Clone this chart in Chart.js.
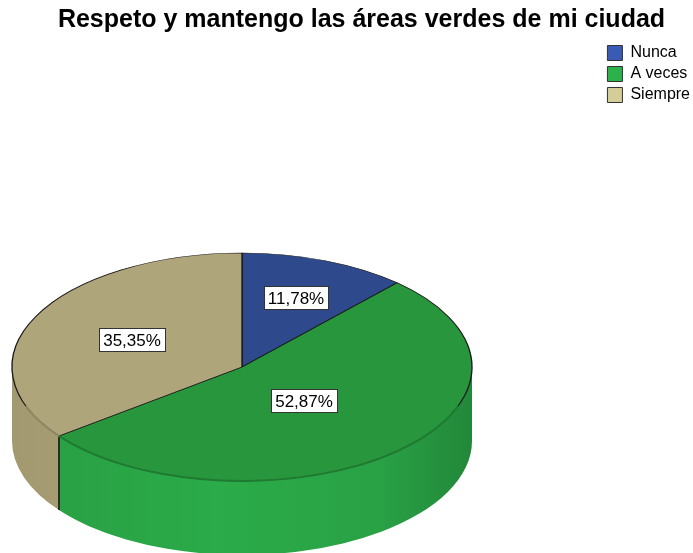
<!DOCTYPE html>
<html>
<head>
<meta charset="utf-8">
<script src="https://cdn.jsdelivr.net/npm/chart.js@4.4.1/dist/chart.umd.min.js"></script>
<style>
  html, body { margin: 0; padding: 0; background: #fff; }
</style>
</head>
<body>
<canvas id="chart" width="693" height="553"></canvas>
<script>
// data
const categories = ["Nunca", "A veces", "Siempre"];
const percentages = [11.78, 52.87, 35.35];
const valueLabels = ["11,78%", "52,87%", "35,35%"];

// colours
const topColors = ["#2f4a8c", "#27963d", "#afa57b"];
const sideColors = ["#2d4790", "#2aa647", "#aca176"];
const legendColors = ["#3a5bb4", "#2cb24b", "#d5cd98"];

// 3D look: ellipse centre / radii / depth, label distance from centre
const CX = 242, CY = 367, RX = 230, RY = 114, DEPTH = 74;
const labelRadius = [0.65, 0.40, 0.535];
const FONT = "'Liberation Sans', Arial, sans-serif";

function shade(hex, f) {
    const n = parseInt(hex.slice(1), 16);
    const c = [(n >> 16) & 255, (n >> 8) & 255, n & 255].map((v) => Math.max(0, Math.min(255, Math.round(v * f))));
    return `rgb(${c[0]}, ${c[1]}, ${c[2]})`;
}

const pie3d = {
    id: "pie3d",
    beforeDatasetsDraw(chart) {
        const ctx = chart.ctx;
        const arcs = chart.getDatasetMeta(0).data;

        // side walls, only the front half (0..PI) can be seen
        arcs.forEach((arc, i) => {
            const a1 = Math.max(arc.startAngle, 0);
            const a2 = Math.min(arc.endAngle, Math.PI);
            if (a2 <= a1) return;
            const grad = ctx.createLinearGradient(CX - RX, 0, CX + RX, 0);
            grad.addColorStop(0, shade(sideColors[i], 0.95));
            grad.addColorStop(0.45, shade(sideColors[i], 1.03));
            grad.addColorStop(0.8, shade(sideColors[i], 0.97));
            grad.addColorStop(1, shade(sideColors[i], 0.82));
            ctx.beginPath();
            ctx.ellipse(CX, CY, RX, RY, 0, a1, a2);
            ctx.ellipse(CX, CY + DEPTH, RX, RY, 0, a2, a1, true);
            ctx.closePath();
            ctx.fillStyle = grad;
            ctx.fill();
        });

        // slice edges on the front wall
        ctx.save();
        ctx.strokeStyle = "#111";
        ctx.lineWidth = 1.5;
        arcs.forEach((arc) => {
            const a = arc.startAngle;
            if (a <= 0 || a >= Math.PI) return;
            const x = CX + RX * Math.cos(a);
            const y = CY + RY * Math.sin(a);
            ctx.beginPath();
            ctx.moveTo(x, y);
            ctx.lineTo(x, y + DEPTH);
            ctx.stroke();
        });
        ctx.restore();

        // squash the library's pie into the top ellipse
        const a0 = arcs[0];
        ctx.save();
        ctx.translate(CX, CY);
        ctx.scale(RX / a0.outerRadius, RY / a0.outerRadius);
        ctx.translate(-a0.x, -a0.y);
    },
    afterDatasetsDraw(chart) {
        const ctx = chart.ctx;
        ctx.restore();

        const arcs = chart.getDatasetMeta(0).data;

        // soften the front rim of the top face
        ctx.save();
        ctx.lineWidth = 2;
        arcs.forEach((arc, i) => {
            const a1 = Math.max(arc.startAngle, 0.35);
            const a2 = Math.min(arc.endAngle, Math.PI - 0.35);
            if (a2 <= a1) return;
            ctx.beginPath();
            ctx.ellipse(CX, CY, RX, RY, 0, a1, a2);
            ctx.strokeStyle = shade(topColors[i], 0.82);
            ctx.stroke();
        });
        ctx.restore();

        ctx.save();
        ctx.font = `17px ${FONT}`;
        ctx.textAlign = "center";
        ctx.textBaseline = "middle";
        arcs.forEach((arc, i) => {
            const mid = (arc.startAngle + arc.endAngle) / 2;
            const x = CX + RX * labelRadius[i] * Math.cos(mid);
            const y = CY + RY * labelRadius[i] * Math.sin(mid);
            const w = Math.round(ctx.measureText(valueLabels[i]).width + 8);
            const h = 23;
            const bx = Math.round(x - w / 2) + 0.5;
            const by = Math.round(y - h / 2) + 0.5;
            ctx.fillStyle = "#fff";
            ctx.fillRect(bx, by, w, h);
            ctx.strokeStyle = "#333";
            ctx.lineWidth = 1;
            ctx.strokeRect(bx, by, w, h);
            ctx.fillStyle = "#000";
            ctx.fillText(valueLabels[i], Math.round(x), Math.round(y) + 1);
        });
        ctx.restore();
    },
};

Chart.defaults.font.family = FONT;
Chart.defaults.color = "#000";

new Chart(document.getElementById("chart"), {
    type: "pie",
    data: {
        labels: categories,
        datasets: [
            {
                data: percentages,
                backgroundColor: topColors,
                borderColor: "#1a1a1a",
                borderWidth: 1.5,
                clip: false,
            },
        ],
    },
    options: {
        responsive: false,
        animation: false,
        events: [],
        layout: { padding: { left: 23, right: -7 } },
        plugins: {
            title: {
                display: true,
                text: "Respeto y mantengo las áreas verdes de mi ciudad",
                font: { size: 25, weight: "bold" },
                color: "#000",
                padding: { top: 5, bottom: 5 },
            },
            legend: {
                position: "right",
                align: "start",
                fullSize: false,
                labels: {
                    boxWidth: 15,
                    boxHeight: 15,
                    padding: 5,
                    font: { size: 16 },
                    color: "#000",
                    generateLabels: (chart) =>
                        Chart.overrides.pie.plugins.legend.labels.generateLabels(chart).map((item, i) => ({
                            ...item,
                            fillStyle: legendColors[i],
                            strokeStyle: "#333",
                            lineWidth: 1,
                        })),
                },
            },
            tooltip: { enabled: false },
        },
    },
    plugins: [pie3d],
});
</script>
</body>
</html>
